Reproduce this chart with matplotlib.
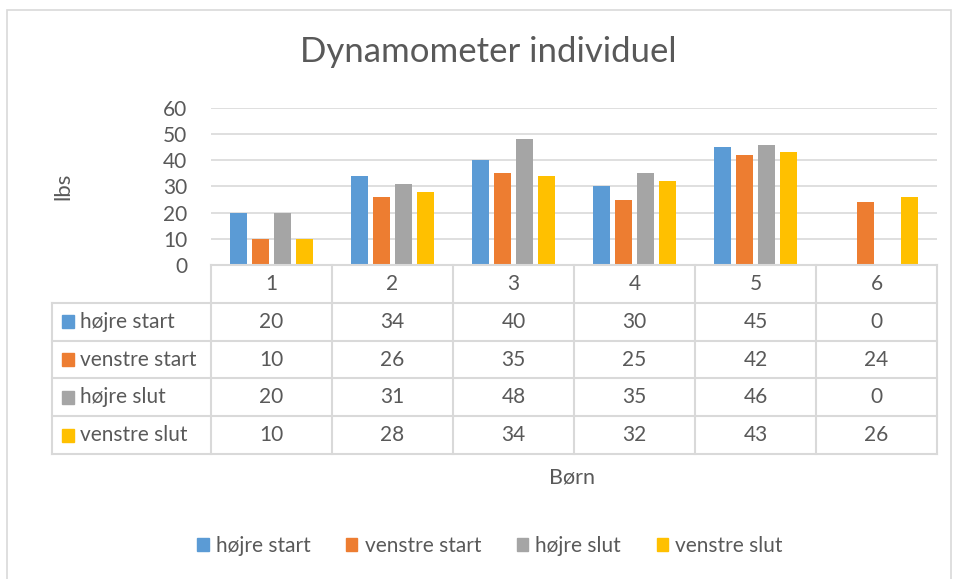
import matplotlib.pyplot as plt
from matplotlib.patches import Rectangle
import numpy as np

plt.rcParams['font.family'] = ['Lato', 'DejaVu Sans']

# data
children = ['1', '2', '3', '4', '5', '6']
series_names = ['højre start', 'venstre start', 'højre slut', 'venstre slut']
hojre_start = [20, 34, 40, 30, 45, 0]
venstre_start = [10, 26, 35, 25, 42, 24]
hojre_slut = [20, 31, 48, 35, 46, 0]
venstre_slut = [10, 28, 34, 32, 43, 26]
colors = ['#5B9BD5', '#ED7D31', '#A5A5A5', '#FFC000']
yticks = [0, 10, 20, 30, 40, 50, 60]

series = [hojre_start, venstre_start, hojre_slut, venstre_slut]
txt = '#595959'
grid = '#D9D9D9'
W, H = 955, 579

fig = plt.figure(figsize=(W / 100, H / 100), dpi=100)
fig.patches.append(Rectangle((7 / W, -0.1), (951 - 7) / W, 1.1 - 10 / H,
                             transform=fig.transFigure, fill=False,
                             edgecolor=grid, linewidth=1.2))

# bar chart area
ax = fig.add_axes([211 / W, 1 - 265 / H, (937 - 211) / W, (265 - 108) / H])
x = np.arange(len(children))
bw = 0.14
step = 0.182
for i, vals in enumerate(series):
    ax.bar(x + (i - 1.5) * step, vals, width=bw, color=colors[i], zorder=3)
ax.set_xlim(-0.5, 5.5)
ax.set_ylim(0, 60)
ax.set_yticks(yticks)
ax.set_xticks([])
ax.grid(axis='y', color=grid, linewidth=1.2)
ax.tick_params(axis='y', length=0, pad=17, labelsize=15, labelcolor=txt)
for s in ax.spines.values():
    s.set_visible(False)
fig.text(63 / W, 1 - 186 / H, 'lbs', rotation=90, ha='center', va='center',
         fontsize=16, color=txt)

# data table under the chart
tax = fig.add_axes([52 / W, 1 - 454 / H, (937 - 52) / W, (454 - 265) / H])
left = -0.5 - 159 / 121
tax.set_xlim(left, 5.5)
tax.set_ylim(5, 0)
tax.axis('off')
lw = 1.5
# horizontal lines
tax.plot([-0.5, 5.5], [0, 0], color=grid, lw=lw, clip_on=False)
for r in range(1, 6):
    tax.plot([left, 5.5], [r, r], color=grid, lw=lw, clip_on=False)
# vertical lines
tax.plot([left, left], [1, 5], color=grid, lw=lw, clip_on=False)
for c in range(7):
    tax.plot([c - 0.5, c - 0.5], [0, 5], color=grid, lw=lw, clip_on=False)
for c, lab in enumerate(children):
    tax.text(c, 0.5, lab, ha='center', va='center', fontsize=15, color=txt)
for r, (name, vals) in enumerate(zip(series_names, series)):
    tax.add_patch(Rectangle((left + 0.085, r + 1.33), 0.1, 0.34,
                            color=colors[r], clip_on=False))
    tax.text(left + 0.235, r + 1.5, name, ha='left', va='center',
             fontsize=15, color=txt)
    for c, v in enumerate(vals):
        tax.text(c, r + 1.5, str(v), ha='center', va='center',
                 fontsize=15, color=txt)

fig.text(572 / W, 1 - 478 / H, 'Børn', ha='center', va='center',
         fontsize=15.5, color=txt)
fig.text(488 / W, 1 - 52 / H, 'Dynamometer individuel', ha='center',
         va='center', fontsize=25, color=txt)

handles = [Rectangle((0, 0), 1, 1, color=c) for c in colors]
leg = fig.legend(handles, series_names, loc='center', ncol=4,
                 bbox_to_anchor=(490 / W, 1 - 546 / H), frameon=False,
                 fontsize=15, handlelength=0.55, handleheight=0.55,
                 handletextpad=0.35, columnspacing=1.7)
for t in leg.get_texts():
    t.set_color(txt)

fig.savefig('out.png', dpi=100)
